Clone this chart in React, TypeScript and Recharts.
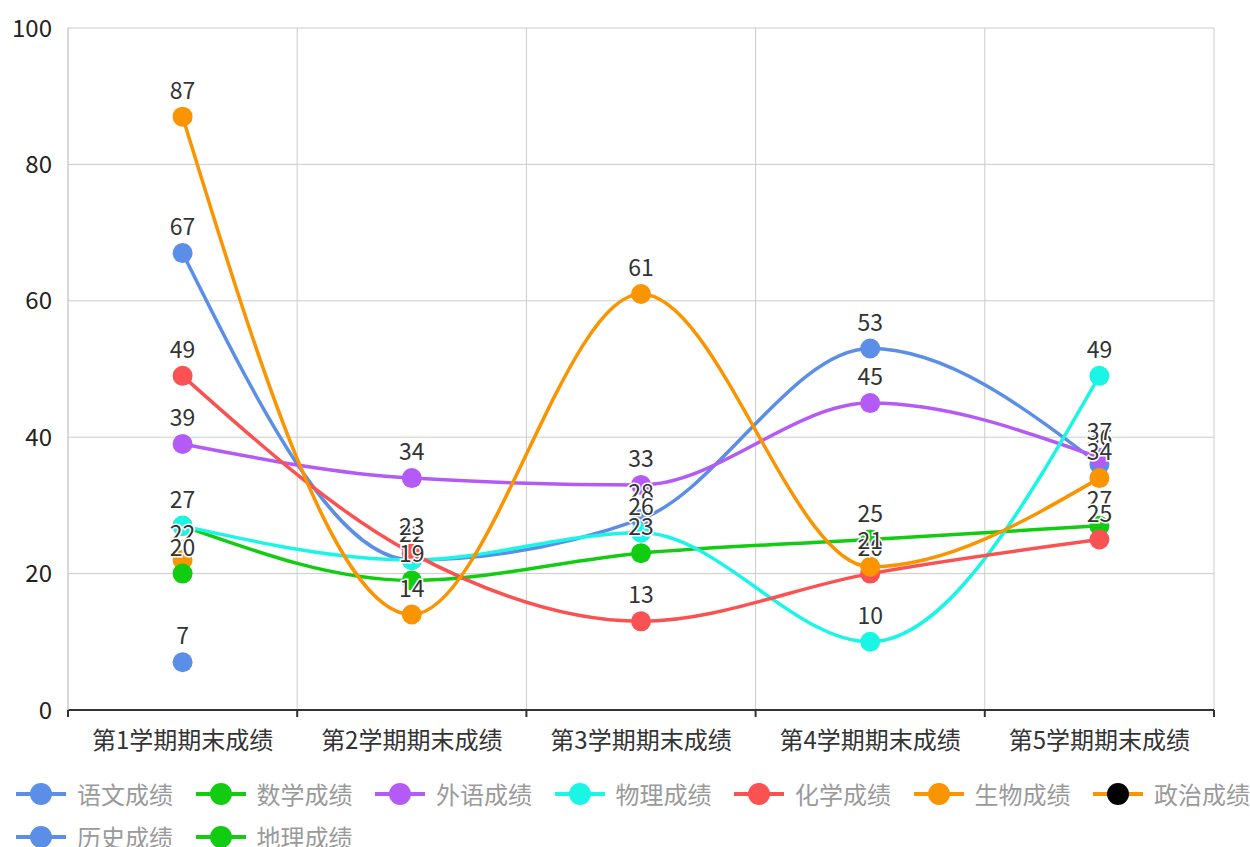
import React from 'react'
import { LineChart, Line, XAxis, YAxis, CartesianGrid, LabelList } from 'recharts'

const categories = ['第1学期期末成绩', '第2学期期末成绩', '第3学期期末成绩', '第4学期期末成绩', '第5学期期末成绩']
const yuwen = [67, 22, 28, 53, 36]
const shuxue = [27, 19, 23, 25, 27]
const waiyu = [39, 34, 33, 45, 37]
const wuli = [27, 22, 26, 10, 49]
const huaxue = [49, 23, 13, 20, 25]
const shengwu = [87, 14, 61, 21, 34]
const zhengzhi = [22]
const lishi = [7]
const dili = [20]
const yTicks = [0, 20, 40, 60, 80, 100]

const series = [
  { name: '语文成绩', values: yuwen, color: '#5b8ee6', dot: '#5b8ee6' },
  { name: '数学成绩', values: shuxue, color: '#12cc12', dot: '#12cc12' },
  { name: '外语成绩', values: waiyu, color: '#b45af7', dot: '#b45af7' },
  { name: '物理成绩', values: wuli, color: '#1af5e5', dot: '#1af5e5' },
  { name: '化学成绩', values: huaxue, color: '#fa5252', dot: '#fa5252' },
  { name: '生物成绩', values: shengwu, color: '#fa9400', dot: '#fa9400' },
  { name: '政治成绩', values: zhengzhi, color: '#fa9400', dot: '#fa9400', legendDot: '#000' },
  { name: '历史成绩', values: lishi, color: '#5b8ee6', dot: '#5b8ee6' },
  { name: '地理成绩', values: dili, color: '#12cc12', dot: '#12cc12' },
]

const data = categories.map((c, i) => {
  const row: any = { name: c }
  series.forEach(s => { row[s.name] = s.values[i] ?? null })
  return row
})

const W = 1250
const H = 847
const LEFT = 68
const RIGHT = 36
const BOTTOM_Y = 710
const BAND = (W - LEFT - RIGHT) / categories.length
const FONT = '"Noto Sans CJK SC", "Noto Sans", sans-serif'

const XTick = (props: any) => {
  const { x, payload, index } = props
  return (
    <g>
      <line x1={x - BAND / 2} x2={x - BAND / 2} y1={BOTTOM_Y} y2={BOTTOM_Y + 7} stroke="#333" strokeWidth={2} />
      {index === categories.length - 1 && (
        <line x1={x + BAND / 2} x2={x + BAND / 2} y1={BOTTOM_Y} y2={BOTTOM_Y + 7} stroke="#333" strokeWidth={2} />
      )}
      <text x={x} y={BOTTOM_Y + 28} textAnchor="middle" dominantBaseline="central" fontSize={24} fill="#333" fontFamily={FONT}>
        {payload.value}
      </text>
    </g>
  )
}

const ValueLabel = (props: any) => {
  const { x, y, value } = props
  if (value == null) return null
  return (
    <text x={x} y={y - 28} textAnchor="middle" dominantBaseline="central" fontSize={23} fill="#333"
      stroke="#fff" strokeWidth={3} paintOrder="stroke" fontFamily={FONT}>
      {value}
    </text>
  )
}

function LegendBox() {
  const rows = [series.slice(0, 7), series.slice(7)]
  return (
    <div style={{ position: 'absolute', left: 0, top: 0, width: W, height: H, pointerEvents: 'none' }}>
      {rows.map((row, r) =>
        row.map((s, i) => (
          <div key={s.name} style={{ position: 'absolute', left: 16 + i * 179.5, top: (r === 0 ? 794 : 837) - 14, height: 28, display: 'flex', alignItems: 'center' }}>
            <svg width={50} height={24}>
              <line x1={0} x2={50} y1={12} y2={12} stroke={s.color} strokeWidth={4} />
              <circle cx={25} cy={12} r={11} fill={s.legendDot ?? s.dot} />
            </svg>
            <span style={{ marginLeft: 11, fontSize: 24, color: '#9a9a9a', fontFamily: FONT, lineHeight: '28px', whiteSpace: 'nowrap' }}>{s.name}</span>
          </div>
        ))
      )}
    </div>
  )
}

export default function App() {
  return (
    <div style={{ position: 'absolute', left: 0, top: 0, width: W, height: H, background: '#fff' }}>
      <LineChart width={W} height={H} data={data} margin={{ top: 28, right: RIGHT, left: 0, bottom: H - BOTTOM_Y - 40 }}>
        <CartesianGrid
          stroke="#cccccc"
          strokeWidth={1}
          verticalCoordinatesGenerator={({ offset }: any) =>
            categories.map((_, i) => offset.left + (i * offset.width) / categories.length).concat(offset.left + offset.width)
          }
        />
        <XAxis
          dataKey="name"
          height={40}
          padding={{ left: BAND / 2, right: BAND / 2 }}
          axisLine={{ stroke: '#333', strokeWidth: 2 }}
          tickLine={false}
          tick={<XTick />}
          interval={0}
        />
        <YAxis
          width={LEFT}
          domain={[0, 100]}
          ticks={yTicks}
          axisLine={{ stroke: '#cccccc' }}
          tickLine={false}
          tickSize={0}
          tickMargin={16}
          tick={{ fontSize: 24, fill: '#222', fontFamily: FONT }}
        />
        {series.map(s => (
          <Line
            key={s.name}
            dataKey={s.name}
            type="monotone"
            stroke={s.color}
            strokeWidth={3.5}
            dot={{ r: 10, fill: s.dot, stroke: 'none' }}
            activeDot={false}
            isAnimationActive={false}
            connectNulls={false}
          >
            <LabelList dataKey={s.name} content={<ValueLabel />} />
          </Line>
        ))}
      </LineChart>
      <LegendBox />
    </div>
  )
}
